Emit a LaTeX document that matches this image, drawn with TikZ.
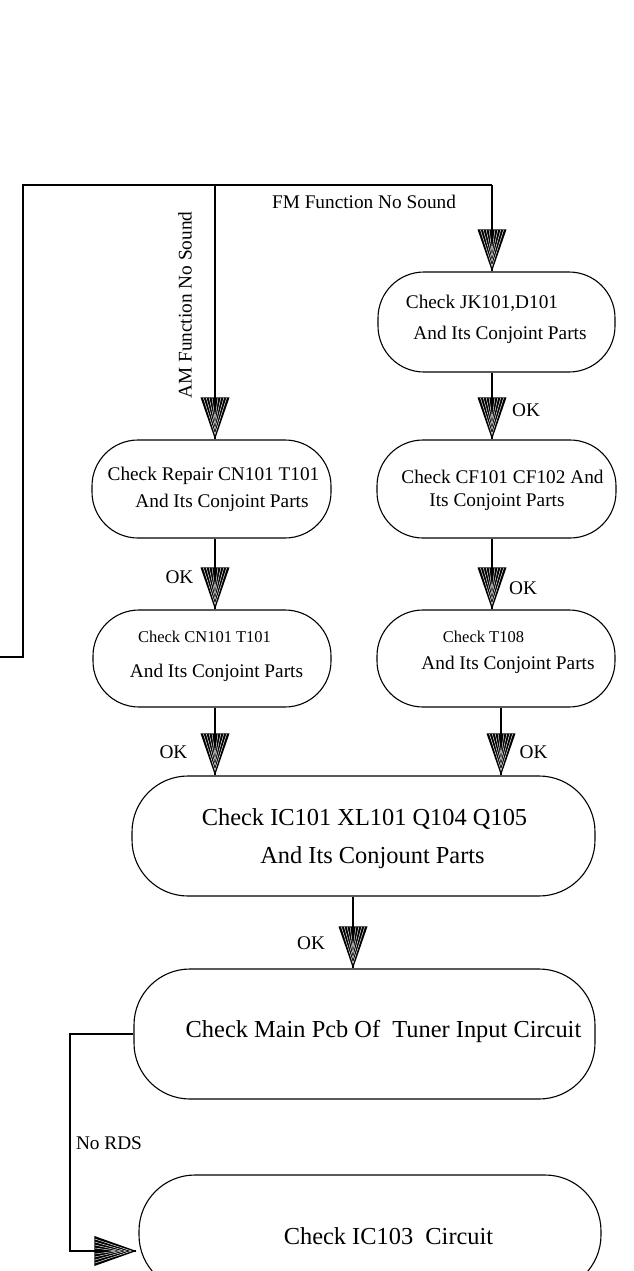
\documentclass[tikz,border=0pt]{standalone}
\usepackage{fontspec}
\setmainfont{Liberation Serif}
\begin{document}
\begin{tikzpicture}[x=1pt,y=-1pt,line width=1.1pt,
  box/.style={draw,rounded corners=46pt,inner sep=0pt},
  bigbox/.style={draw,rounded corners=56pt,inner sep=0pt},
  txt/.style={anchor=base,inner sep=0pt,font=\fontsize{19.3}{23}\selectfont},
  smalltxt/.style={anchor=base,inner sep=0pt,font=\fontsize{16.5}{20}\selectfont},
  bigtxt/.style={anchor=base,inner sep=0pt,font=\fontsize{24.4}{29}\selectfont},
  tipdown/.pic={
    \fill[black] (-14.5,-42) -- (14.5,-42) -- (0,0) -- cycle;
    \foreach \k in {1,...,4}
      \draw[white,line width=0.45pt] (-14.5+\k*2.9,-41.5) -- (0,-\k*5) -- (14.5-\k*2.9,-41.5);
  },
  tipright/.pic={
    \fill[black] (-42,-15) -- (-42,15) -- (0,0) -- cycle;
    \foreach \k in {1,...,4}
      \draw[white,line width=0.45pt] (-41.5,-15+\k*3) -- (-\k*5,0) -- (-41.5,15-\k*3);
  }]
\useasboundingbox (0,0) rectangle (633,1271);
\clip (0,0) rectangle (633,1271);

% boxes
\node[box,minimum width=239,minimum height=98] (b1) at (211.5,489) {};
\node[box,minimum width=238,minimum height=97] (b2) at (212,658.5) {};
\node[box,minimum width=237,minimum height=100] (jk) at (496.5,322) {};
\node[box,minimum width=239,minimum height=98] (cf) at (496.5,489) {};
\node[box,minimum width=238,minimum height=97] (t108) at (496,658.5) {};
\node[bigbox,minimum width=463,minimum height=120] (ic101) at (363.5,836) {};
\node[bigbox,minimum width=461,minimum height=130] (pcb) at (364.5,1034) {};
\node[bigbox,minimum width=462,minimum height=116] (ic103) at (370,1233) {};

% routing points
\coordinate (tl) at (23,185);
\coordinate (tr) at (492,185);
\coordinate (am) at (215,185);
\coordinate (lend) at (0,657);
\coordinate (rx) at (501,0);
\coordinate (mx) at (353,0);
\coordinate (rdsx) at (70,0);
\coordinate (rdsend) at ([yshift=-18pt,xshift=-2pt]ic103.west);

% connectors
\draw (lend) -- (tl |- lend) -- (tl) -- (tr);
\draw (am) -- (am |- b1.north);
\pic at (am |- b1.north) {tipdown};
\draw (tr) -- (tr |- jk.north);
\pic at (tr |- jk.north) {tipdown};
\draw (tr |- jk.south) -- (tr |- cf.north);
\pic at (tr |- cf.north) {tipdown};
\draw (tr |- cf.south) -- (tr |- t108.north);
\pic at (tr |- t108.north) {tipdown};
\draw (rx |- t108.south) -- (rx |- ic101.north);
\pic at (rx |- ic101.north) {tipdown};
\draw (am |- b1.south) -- (am |- b2.north);
\pic at (am |- b2.north) {tipdown};
\draw (am |- b2.south) -- (am |- ic101.north);
\pic at (am |- ic101.north) {tipdown};
\draw (mx |- ic101.south) -- (mx |- pcb.north);
\pic at (mx |- pcb.north) {tipdown};
\draw (pcb.west) -- (rdsx |- pcb.west) -- (rdsx |- rdsend) -- (rdsend);
\pic at (rdsend) {tipright};

% branch labels
\node[txt] (fmlab) at (364,208.4) {FM Function No Sound};
\node[anchor=center,inner sep=0pt,rotate=90,font=\fontsize{19.3}{23}\selectfont] (amlab) at (185,305) {AM Function No Sound};
\node[txt] (ok1) at (526,416.4) {OK};
\node[txt] (ok2) at (523,594.4) {OK};
\node[txt] (ok3) at (179.5,583.4) {OK};
\node[txt] (ok4) at (173.5,758.4) {OK};
\node[txt] (ok5) at (533.5,758.4) {OK};
\node[txt] (ok6) at (311,949.4) {OK};
\node[txt] (nords) at (109,1149.4) {No RDS};

% box texts
\node[txt] (jk1) at (482,308.4) {Check JK101,D101};
\node[txt] (jk2) at (500,339.4) {And Its Conjoint Parts};
\node[txt] (cf1) at (502.5,483.4) {Check CF101 CF102 And};
\node[txt] (cf2) at (497,506.4) {Its Conjoint Parts};
\node[smalltxt] (t1) at (483.5,642.5) {Check T108};
\node[txt] (t2) at (508,669.4) {And Its Conjoint Parts};
\node[txt] (b1a) at (213.5,480.4) {Check Repair CN101 T101};
\node[txt] (b1b) at (222,507.4) {And Its Conjoint Parts};
\node[smalltxt] (b2a) at (204.5,642.5) {Check CN101 T101};
\node[txt] (b2b) at (216.5,677.4) {And Its Conjoint Parts};
\node[bigtxt] (big1) at (364.5,825) {Check IC101 XL101 Q104 Q105};
\node[bigtxt] (big2) at (372.5,863) {And Its Conjount Parts};
\node[bigtxt] (pcbt) at (383.5,1037) {Check Main Pcb Of\ \ Tuner Input Circuit};
\node[bigtxt] (ic103t) at (388.5,1244) {Check IC103\ \ Circuit};
\end{tikzpicture}
\end{document}
